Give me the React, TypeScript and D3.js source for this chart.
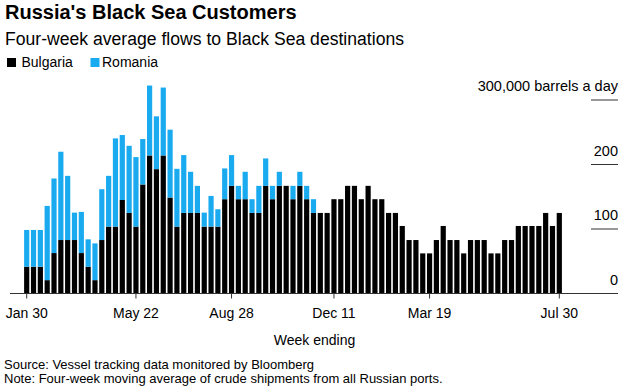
import React from "react";
import * as d3 from "d3";

const startDate = new Date(Date.UTC(2022, 0, 30));
const bulgaria: number[] = [
  41.5, 41.5, 41.5, 20.7, 62.7, 82.9, 82.9, 82.9, 62.7, 41.5,
  20.7, 82.9, 103.7, 103.7, 145, 124.9, 103.7, 169, 214, 192.8,
  214, 148.8, 103.7, 124.9, 124.9, 124.9, 103.7, 103.7, 103.7, 146.2,
  166.9, 146.2, 146.2, 124.9, 124.9, 166.9, 146.2, 166.9, 166.9, 146.2,
  166.9, 146.2, 124.9, 124.9, 124.9, 146.2, 146.2, 166.9, 166.9, 146.2,
  166.9, 146.2, 146.2, 124.9, 124.9, 104.7, 82.9, 82.9, 62.2, 62.2,
  82.9, 104.7, 82.9, 82.9, 62.2, 82.9, 82.9, 82.9, 62.2, 62.2,
  82.9, 82.9, 104.7, 104.7, 104.7, 104.7, 124.9, 104.7, 124.9,
];
const romania: number[] = [
  57, 57, 57, 115.1, 115.6, 136.9, 99.5, 42.5, 63.8, 42.5,
  57, 78.8, 78.7, 136.8, 100.7, 104.1, 107.8, 70.5, 108.4, 81.9,
  105.3, 105.2, 89.6, 89.7, 63.8, 42, 21.7, 47.6, 26.9, 47.7,
  47.7, 20.7, 42.5, 21.3, 42, 42.5, 20.7, 21.8, 0, 20.7,
  21.8, 20.7, 21.3, 0, 0, 0, 0, 0, 0, 0,
  0, 0, 0, 0, 0, 0, 0, 0, 0, 0,
  0, 0, 0, 0, 0, 0, 0, 0, 0, 0,
  0, 0, 0, 0, 0, 0, 0, 0, 0,
];
const weeks: Date[] = bulgaria.map((_, i) => d3.utcDay.offset(startDate, i * 7));
const xTickDates: Date[] = [
  new Date(Date.UTC(2022, 0, 30)),
  new Date(Date.UTC(2022, 4, 22)),
  new Date(Date.UTC(2022, 7, 28)),
  new Date(Date.UTC(2022, 11, 11)),
  new Date(Date.UTC(2023, 2, 19)),
  new Date(Date.UTC(2023, 6, 30)),
];
const yTicks: number[] = [0, 100, 200, 300];

const FONT = "'Liberation Sans', Arial, Helvetica, sans-serif";
const BLACK = "#000000";
const BLUE = "#1aaaf0";

export default function App() {
  const width = 625;
  const height = 388;
  const x = d3
    .scaleUtc()
    .domain([weeks[0], weeks[weeks.length - 1]])
    .range([26.7, 559.3]);
  const y = d3.scaleLinear().domain([0, 300]).range([293.5, 100]);
  const step = x(weeks[1]) - x(weeks[0]);
  const bw = step * 0.76;
  const fmt = d3.utcFormat("%b %-d");

  return (
    <svg
      width={width}
      height={height}
      style={{ position: "absolute", left: 0, top: 0, background: "#fff" }}
      fontFamily={FONT}
    >
      <text x={5} y={19} fontSize={20} fontWeight="bold" fill="#000">
        Russia's Black Sea Customers
      </text>
      <text x={5} y={44.5} fontSize={17.6} fill="#000">
        Four-week average flows to Black Sea destinations
      </text>
      <rect x={7} y={58} width={9} height={9} fill={BLACK} />
      <text x={21.5} y={67} fontSize={14} fill="#000">
        Bulgaria
      </text>
      <rect x={90.5} y={58} width={9} height={9} fill={BLUE} />
      <text x={102} y={67} fontSize={14} fill="#000">
        Romania
      </text>

      {yTicks.map((t) => (
        <g key={t}>
          {t > 0 && (
            <line x1={591} x2={618} y1={y(t)} y2={y(t)} stroke="#333" strokeWidth={1} />
          )}
          <text x={618} y={y(t) - 9} fontSize={14.5} textAnchor="end" fill="#000">
            {t === 300 ? "300,000 barrels a day" : String(t)}
          </text>
        </g>
      ))}

      {weeks.map((d, i) => {
        const cx = x(d);
        const b = bulgaria[i];
        const r = romania[i];
        return (
          <g key={i}>
            <rect x={cx - bw / 2} y={y(b)} width={bw} height={y(0) - y(b)} fill={BLACK} />
            {r > 0 && (
              <rect x={cx - bw / 2} y={y(b + r)} width={bw} height={y(b) - y(b + r)} fill={BLUE} />
            )}
          </g>
        );
      })}

      <line x1={10} x2={618} y1={y(0)} y2={y(0)} stroke="#333" strokeWidth={1.2} />
      {xTickDates.map((d, i) => (
        <g key={i}>
          <line x1={x(d)} x2={x(d)} y1={y(0)} y2={y(0) + 5} stroke="#333" strokeWidth={1} />
          <text x={x(d)} y={317.5} fontSize={14} textAnchor="middle" fill="#000">
            {fmt(d)}
          </text>
        </g>
      ))}
      <text x={314.5} y={344.5} fontSize={14} textAnchor="middle" fill="#000">
        Week ending
      </text>
      <text x={4} y={368.5} fontSize={13} fill="#000">
        Source: Vessel tracking data monitored by Bloomberg
      </text>
      <text x={4} y={382.5} fontSize={13} fill="#000">
        Note: Four-week moving average of crude shipments from all Russian ports.
      </text>
    </svg>
  );
}
